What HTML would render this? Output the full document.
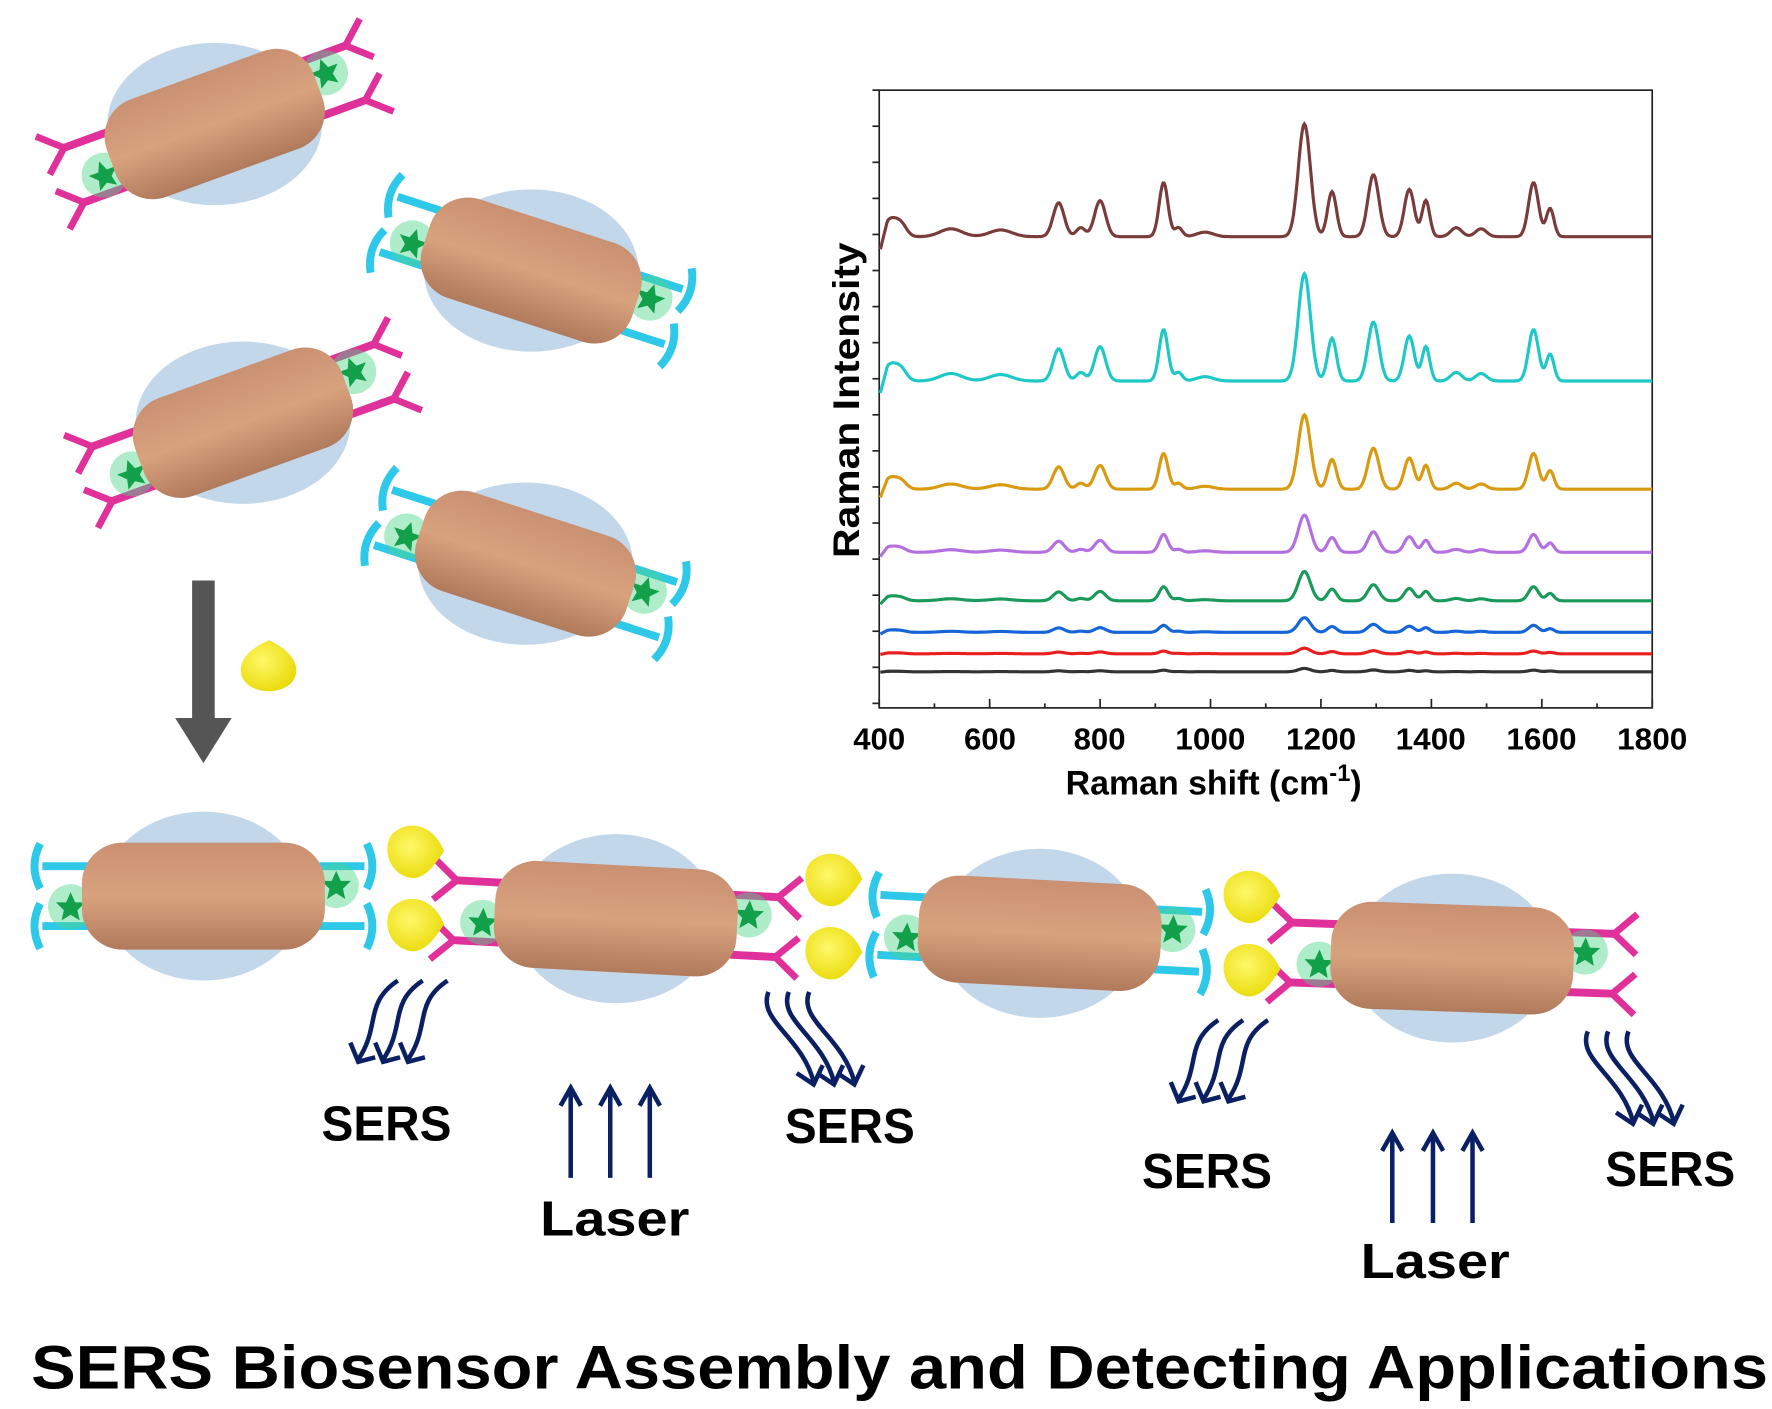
<!DOCTYPE html>
<html><head><meta charset="utf-8"><style>
html,body{margin:0;padding:0;background:#fff;}
svg{display:block;}
text{font-family:"Liberation Sans",sans-serif;font-weight:bold;}
</style></head><body>
<svg id="s" width="1772" height="1409" viewBox="0 0 1568 1250" preserveAspectRatio="none" xmlns="http://www.w3.org/2000/svg">
<defs>
<linearGradient id="rg" x1="0" y1="0" x2="0" y2="1">
<stop offset="0" stop-color="#c99072"/><stop offset="0.5" stop-color="#d9a27e"/><stop offset="1" stop-color="#b07a5c"/>
</linearGradient>
<radialGradient id="yg" cx="0.4" cy="0.4" r="0.7"><stop offset="0" stop-color="#fff86a"/><stop offset="1" stop-color="#e8d800"/></radialGradient>
<g id="star"><circle r="20" fill="#4ed58a" opacity="0.45"/><polygon points="0,-13 4,-4 13,-4 6,3 8,12 0,7 -8,12 -6,3 -13,-4 -4,-4" fill="#12a04a"/></g>
</defs>
<g id="rods"></g>
<g id="plot" fill="none" stroke="#222" stroke-width="1.5">
<rect x="778" y="80" width="684" height="548"/>
</g>
<g id="curves" fill="none" stroke-width="2.8"></g>
<g font-size="27" fill="#000" text-anchor="middle">
<text x="778" y="665" textLength="46" lengthAdjust="spacingAndGlyphs">400</text><text x="876" y="665" textLength="46" lengthAdjust="spacingAndGlyphs">600</text><text x="973" y="665" textLength="46" lengthAdjust="spacingAndGlyphs">800</text>
<text x="1071" y="665" textLength="62" lengthAdjust="spacingAndGlyphs">1000</text><text x="1169" y="665" textLength="62" lengthAdjust="spacingAndGlyphs">1200</text><text x="1266" y="665" textLength="62" lengthAdjust="spacingAndGlyphs">1400</text>
<text x="1364" y="665" textLength="62" lengthAdjust="spacingAndGlyphs">1600</text><text x="1462" y="665" textLength="62" lengthAdjust="spacingAndGlyphs">1800</text>
<text x="943" y="705" font-size="30" text-anchor="start">Raman shift  (cm<tspan font-size="21" dy="-12">-1</tspan><tspan dy="12">)</tspan></text>
<text transform="translate(760,355) rotate(-90)" font-size="33" textLength="280" lengthAdjust="spacingAndGlyphs">Raman Intensity</text>
</g>
<rect x="170" y="515" width="20" height="125" fill="#555"/>
<polygon points="155,637 205,637 180,677" fill="#555"/>
<path d="M238,568 C222,575 210,585 214,600 C220,616 250,618 260,603 C266,592 260,578 238,568 Z" fill="url(#yg)"/>
<g id="arrows" fill="none" stroke="#0b1f63" stroke-width="4"></g>
<g font-size="44" fill="#000" text-anchor="middle">
<text x="342" y="1012" textLength="115" lengthAdjust="spacingAndGlyphs">SERS</text><text x="752" y="1014" textLength="115" lengthAdjust="spacingAndGlyphs">SERS</text>
<text x="1068" y="1054" textLength="115" lengthAdjust="spacingAndGlyphs">SERS</text><text x="1478" y="1052" textLength="115" lengthAdjust="spacingAndGlyphs">SERS</text>
<text x="544" y="1096" textLength="132" lengthAdjust="spacingAndGlyphs">Laser</text><text x="1270" y="1134" textLength="132" lengthAdjust="spacingAndGlyphs">Laser</text>
</g>
<text x="796" y="1232" font-size="54" text-anchor="middle" textLength="1537" lengthAdjust="spacingAndGlyphs" fill="#000">SERS Biosensor Assembly and Detecting Applications</text>
</svg>
<script>
var NS="http://www.w3.org/2000/svg";
function el(p,t,a){var e=document.createElementNS(NS,t);for(var k in a)e.setAttribute(k,a[k]);p.appendChild(e);return e;}
var plot=document.getElementById('plot');
for(var y=80;y<=628;y+=32){el(plot,'line',{x1:772,y1:y,x2:778,y2:y});}
for(var v=400;v<=1800;v+=100){var x=778+(v-400)*0.4886;el(plot,'line',{x1:x,y1:628,x2:x,y2:v%200==0?620:624});}
var peaks=[[420,.15,12],[440,.1,10],[530,.07,20],[620,.06,20],[725,.3,10],[765,.08,8],[800,.32,10],[915,.48,8],[942,.08,7],[990,.04,15],[1170,1,11],[1220,.4,8],[1295,.55,10],[1360,.42,9],[1390,.32,7],[1445,.08,10],[1490,.07,10],[1585,.48,9],[1615,.25,7]];
var specs=[[210,100,'#7a3b3b'],[338,95,'#1ec8c8'],[434,66,'#d99a10'],[490,33,'#b570e0'],[533,26,'#1a9a5a'],[561,13,'#1565d8'],[580,5,'#e82020'],[596,3,'#333']];
var cg=document.getElementById('curves');
specs.forEach(function(s){var d='';for(var v=402;v<=1800;v+=2){var I=0;peaks.forEach(function(p){I+=p[1]*Math.exp(-Math.pow((v-p[0])/p[2],2)/2);});
 var dip=0;if(v<415)dip=(415-v)/13*0.2;var x=778+(v-400)*0.4886,y=s[0]-I*s[1]+dip*s[1]*0.8;d+=(d?'L':'M')+x.toFixed(1)+','+y.toFixed(1);}
 el(cg,'path',{d:d,stroke:s[2]});});
var rods=document.getElementById('rods');
function ab(g,x,y,dir,col,ang){
 var a=el(g,'g',{transform:'translate('+x+','+y+') rotate('+ang+')'});
 el(a,'line',{x1:0,y1:0,x2:dir*40,y2:0,stroke:col,'stroke-width':7});
 if(col=='#e0309a'){el(a,'line',{x1:dir*40,y1:0,x2:dir*60,y2:-18,stroke:col,'stroke-width':6});el(a,'line',{x1:dir*40,y1:0,x2:dir*60,y2:18,stroke:col,'stroke-width':6});}
 else{el(a,'path',{d:'M'+(dir*42)+',-20 Q'+(dir*52)+',0 '+(dir*42)+',20',stroke:col,'stroke-width':7,fill:'none'});}
}
function rod(cx,cy,ang,w,h,cl,cr,ex,ey){
 el(rods,'ellipse',{cx:cx,cy:cy,rx:ex||95,ry:ey||72,fill:'#b8d0e6',opacity:.85});
 var g=el(rods,'g',{transform:'translate('+cx+','+cy+') rotate('+ang+')'});
 [[-1,cl],[1,cr]].forEach(function(q){var dir=q[0],col=q[1];
  ab(g,dir*(w/2-5),-h*0.28,dir,col,0);ab(g,dir*(w/2-5),h*0.28,dir,col,0);
  el(g,'use',{href:'#star',x:dir*(w/2+10),y:dir*-h*0.1});});
 el(g,'rect',{x:-w/2,y:-h/2,width:w,height:h,rx:h*0.38,fill:'url(#rg)'});
}
var M='#e0309a',C='#2ec8e8';
rod(190,110,-20,195,92,M,M);
rod(470,240,18,195,92,C,C);
rod(215,375,-20,195,92,M,M);
rod(465,500,18,195,92,C,C);
rod(180,795,0,215,95,C,C,90,75);
rod(545,815,3,215,95,M,M,90,75);
rod(920,828,3,215,95,C,C,90,75);
rod(1285,850,2,215,95,M,M,90,75);
function drop(x,y){el(rods,'path',{d:'M'+(x+28)+','+y+' C'+(x+18)+','+(y-25)+' '+(x-5)+','+(y-28)+' '+(x-18)+','+(y-15)+' C'+(x-28)+','+(y-2)+' '+(x-20)+','+(y+22)+' '+x+','+(y+24)+' C'+(x+12)+','+(y+24)+' '+(x+20)+','+(y+12)+' '+(x+28)+','+y+' Z',fill:'url(#yg)'});}
drop(365,755);drop(365,820);drop(735,780);drop(735,845);drop(1105,795);drop(1105,860);
var ar=document.getElementById('arrows');
function up(x,y1,y2){el(ar,'line',{x1:x,y1:y1,x2:x,y2:y2});el(ar,'path',{d:'M'+(x-9)+','+(y2+16)+' L'+x+','+y2+' L'+(x+9)+','+(y2+16)});}
[505,540,575].forEach(function(x){up(x,1045,965);});
[1232,1268,1303].forEach(function(x){up(x,1085,1005);});
function wavyL(x,y){for(var i=0;i<3;i++){var o=i*22;el(ar,'path',{d:'M'+(x+o+40)+','+y+' C'+(x+o+10)+','+(y+20)+' '+(x+o+25)+','+(y+40)+' '+(x+o+5)+','+(y+70)});
 el(ar,'path',{d:'M'+(x+o-2)+','+(y+55)+' L'+(x+o+5)+','+(y+72)+' L'+(x+o+20)+','+(y+68)});}}
function wavyR(x,y){for(var i=0;i<3;i++){var o=i*18;el(ar,'path',{d:'M'+(x+o)+','+y+' C'+(x+o-10)+','+(y+25)+' '+(x+o+30)+','+(y+40)+' '+(x+o+40)+','+(y+80)});
 el(ar,'path',{d:'M'+(x+o+25)+','+(y+72)+' L'+(x+o+40)+','+(y+82)+' L'+(x+o+48)+','+(y+65)});}}
wavyL(312,870);wavyR(680,880);wavyL(1038,905);wavyR(1405,915);
</script>
</body></html>
